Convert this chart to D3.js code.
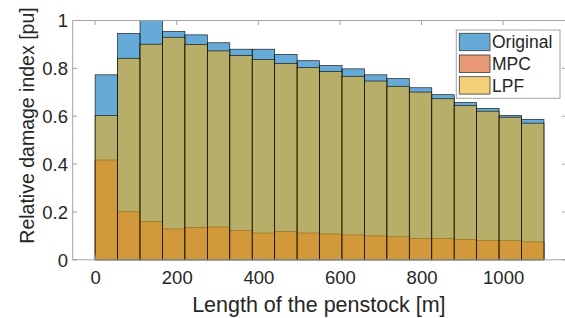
<!DOCTYPE html>
<html>
<head>
<meta charset="utf-8">
<script src="https://cdn.jsdelivr.net/npm/d3@7/dist/d3.min.js"></script>
<style>
  html, body { margin: 0; padding: 0; background: #fff; }
  svg { display: block; }
  text { font-family: "Liberation Sans", Arial, Helvetica, sans-serif; fill: #262626; }
</style>
</head>
<body>
<svg id="chart" width="565" height="318"></svg>
<script>
// ---- data ----
const binStart = [0, 55, 110, 165, 220, 275, 330, 385, 440, 495, 550, 605, 660, 715, 770, 825, 880, 935, 990, 1045];
const binWidth = 55;
const original = [0.773, 0.946, 1.0, 0.954, 0.940, 0.907, 0.880, 0.880, 0.858, 0.832, 0.812, 0.798, 0.773, 0.757, 0.719, 0.690, 0.657, 0.633, 0.603, 0.587];
const mpc = [0.417, 0.201, 0.160, 0.129, 0.135, 0.137, 0.122, 0.112, 0.118, 0.112, 0.108, 0.104, 0.100, 0.096, 0.089, 0.089, 0.085, 0.080, 0.080, 0.075];
const lpf = [0.603, 0.842, 0.901, 0.930, 0.900, 0.873, 0.854, 0.837, 0.821, 0.803, 0.787, 0.767, 0.747, 0.725, 0.701, 0.673, 0.644, 0.621, 0.596, 0.571];
const seriesNames = ["Original", "MPC", "LPF"];
const seriesColors = ["#0072BD", "#D95319", "#EDB120"];
const xTicks = [0, 200, 400, 600, 800, 1000];
const yTicks = [0, 0.2, 0.4, 0.6, 0.8, 1];
const xLabel = "Length of the penstock [m]";
const yLabel = "Relative damage index [pu]";

// ---- layout ----
const L = 72.7, R = 566.4, T = 20.5, B = 259.8;
const svg = d3.select("#chart");
const x = d3.scaleLinear().domain([-55, 1155]).range([L, R]);
const y = d3.scaleLinear().domain([0, 1]).range([B, T]);

const seriesData = [original, mpc, lpf];

// bars
seriesData.forEach((vals, si) => {
  svg.append("g").selectAll("rect")
    .data(vals)
    .join("rect")
    .attr("x", (d, i) => x(binStart[i]))
    .attr("width", (d, i) => x(binStart[i] + binWidth) - x(binStart[i]))
    .attr("y", d => y(Math.min(d, 1)))
    .attr("height", d => y(0) - y(Math.min(d, 1)))
    .attr("fill", seriesColors[si])
    .attr("fill-opacity", 0.6)
    .attr("stroke", "#000")
    .attr("stroke-width", 0.7)
    .attr("stroke-opacity", 0.85);
});

// axes box
const axisColor = "#a3a3a3";
svg.append("rect")
  .attr("x", L).attr("y", T)
  .attr("width", R - L).attr("height", B - T)
  .attr("fill", "none").attr("stroke", axisColor).attr("stroke-width", 1);

const tl = 4.5;
xTicks.forEach(t => {
  svg.append("line").attr("x1", x(t)).attr("x2", x(t)).attr("y1", B).attr("y2", B - tl)
    .attr("stroke", axisColor).attr("stroke-width", 1);
  svg.append("line").attr("x1", x(t)).attr("x2", x(t)).attr("y1", T).attr("y2", T + tl)
    .attr("stroke", axisColor).attr("stroke-width", 1);
});
yTicks.forEach(t => {
  svg.append("line").attr("x1", L).attr("x2", L + tl).attr("y1", y(t)).attr("y2", y(t))
    .attr("stroke", axisColor).attr("stroke-width", 1);
  svg.append("line").attr("x1", R).attr("x2", R - tl).attr("y1", y(t)).attr("y2", y(t))
    .attr("stroke", axisColor).attr("stroke-width", 1);
});

// x tick labels via d3 axis
const xAxisB = d3.axisBottom(x).tickValues(xTicks).tickSize(0).tickFormat(d3.format("d"));
const gx = svg.append("g").attr("transform", `translate(0,${B})`).call(xAxisB);
gx.select(".domain").remove();
gx.selectAll(".tick line").remove();
gx.selectAll(".tick text")
  .attr("y", 0).attr("dy", 0)
  .attr("transform", "translate(0,24.2)")
  .style("font-size", "18.5px")
  .style("font-family", "'Liberation Sans', Arial, Helvetica, sans-serif")
  .attr("fill", "#262626");

// y tick labels via d3 axis
const yAxisL = d3.axisLeft(y).tickValues(yTicks).tickSize(0).tickFormat(d => d3.format("")(+d.toFixed(1)));
const gy = svg.append("g").attr("transform", `translate(${L},0)`).call(yAxisL);
gy.select(".domain").remove();
gy.selectAll(".tick line").remove();
gy.selectAll(".tick text")
  .attr("x", -4.7).attr("dy", "0.35em")
  .style("font-size", "18.5px")
  .style("font-family", "'Liberation Sans', Arial, Helvetica, sans-serif")
  .attr("fill", "#262626");

// axis labels
svg.append("text")
  .attr("x", (L + R) / 2 - 0.7).attr("y", 311.7)
  .attr("text-anchor", "middle")
  .style("font-size", "21.5px")
  .text(xLabel);

svg.append("text")
  .attr("transform", "translate(34,125.5) rotate(-90)")
  .attr("text-anchor", "middle")
  .style("font-size", "19.5px")
  .text(yLabel);

// legend
const lg = svg.append("g");
lg.append("rect")
  .attr("x", 456.3).attr("y", 30).attr("width", 103.7).attr("height", 68.3)
  .attr("fill", "#fff").attr("stroke", axisColor).attr("stroke-width", 1);
seriesNames.forEach((name, i) => {
  const cy = 42 + i * 21.7;
  lg.append("rect")
    .attr("x", 459.3).attr("y", cy - 8.7).attr("width", 30.7).attr("height", 17.4)
    .attr("fill", seriesColors[i]).attr("fill-opacity", 0.6)
    .attr("stroke", "#3a3a3a").attr("stroke-width", 0.8);
  lg.append("text")
    .attr("x", 492).attr("y", cy + 6.2)
    .style("font-size", "17.5px")
    .attr("fill", "#000")
    .text(name);
});
</script>
</body>
</html>
